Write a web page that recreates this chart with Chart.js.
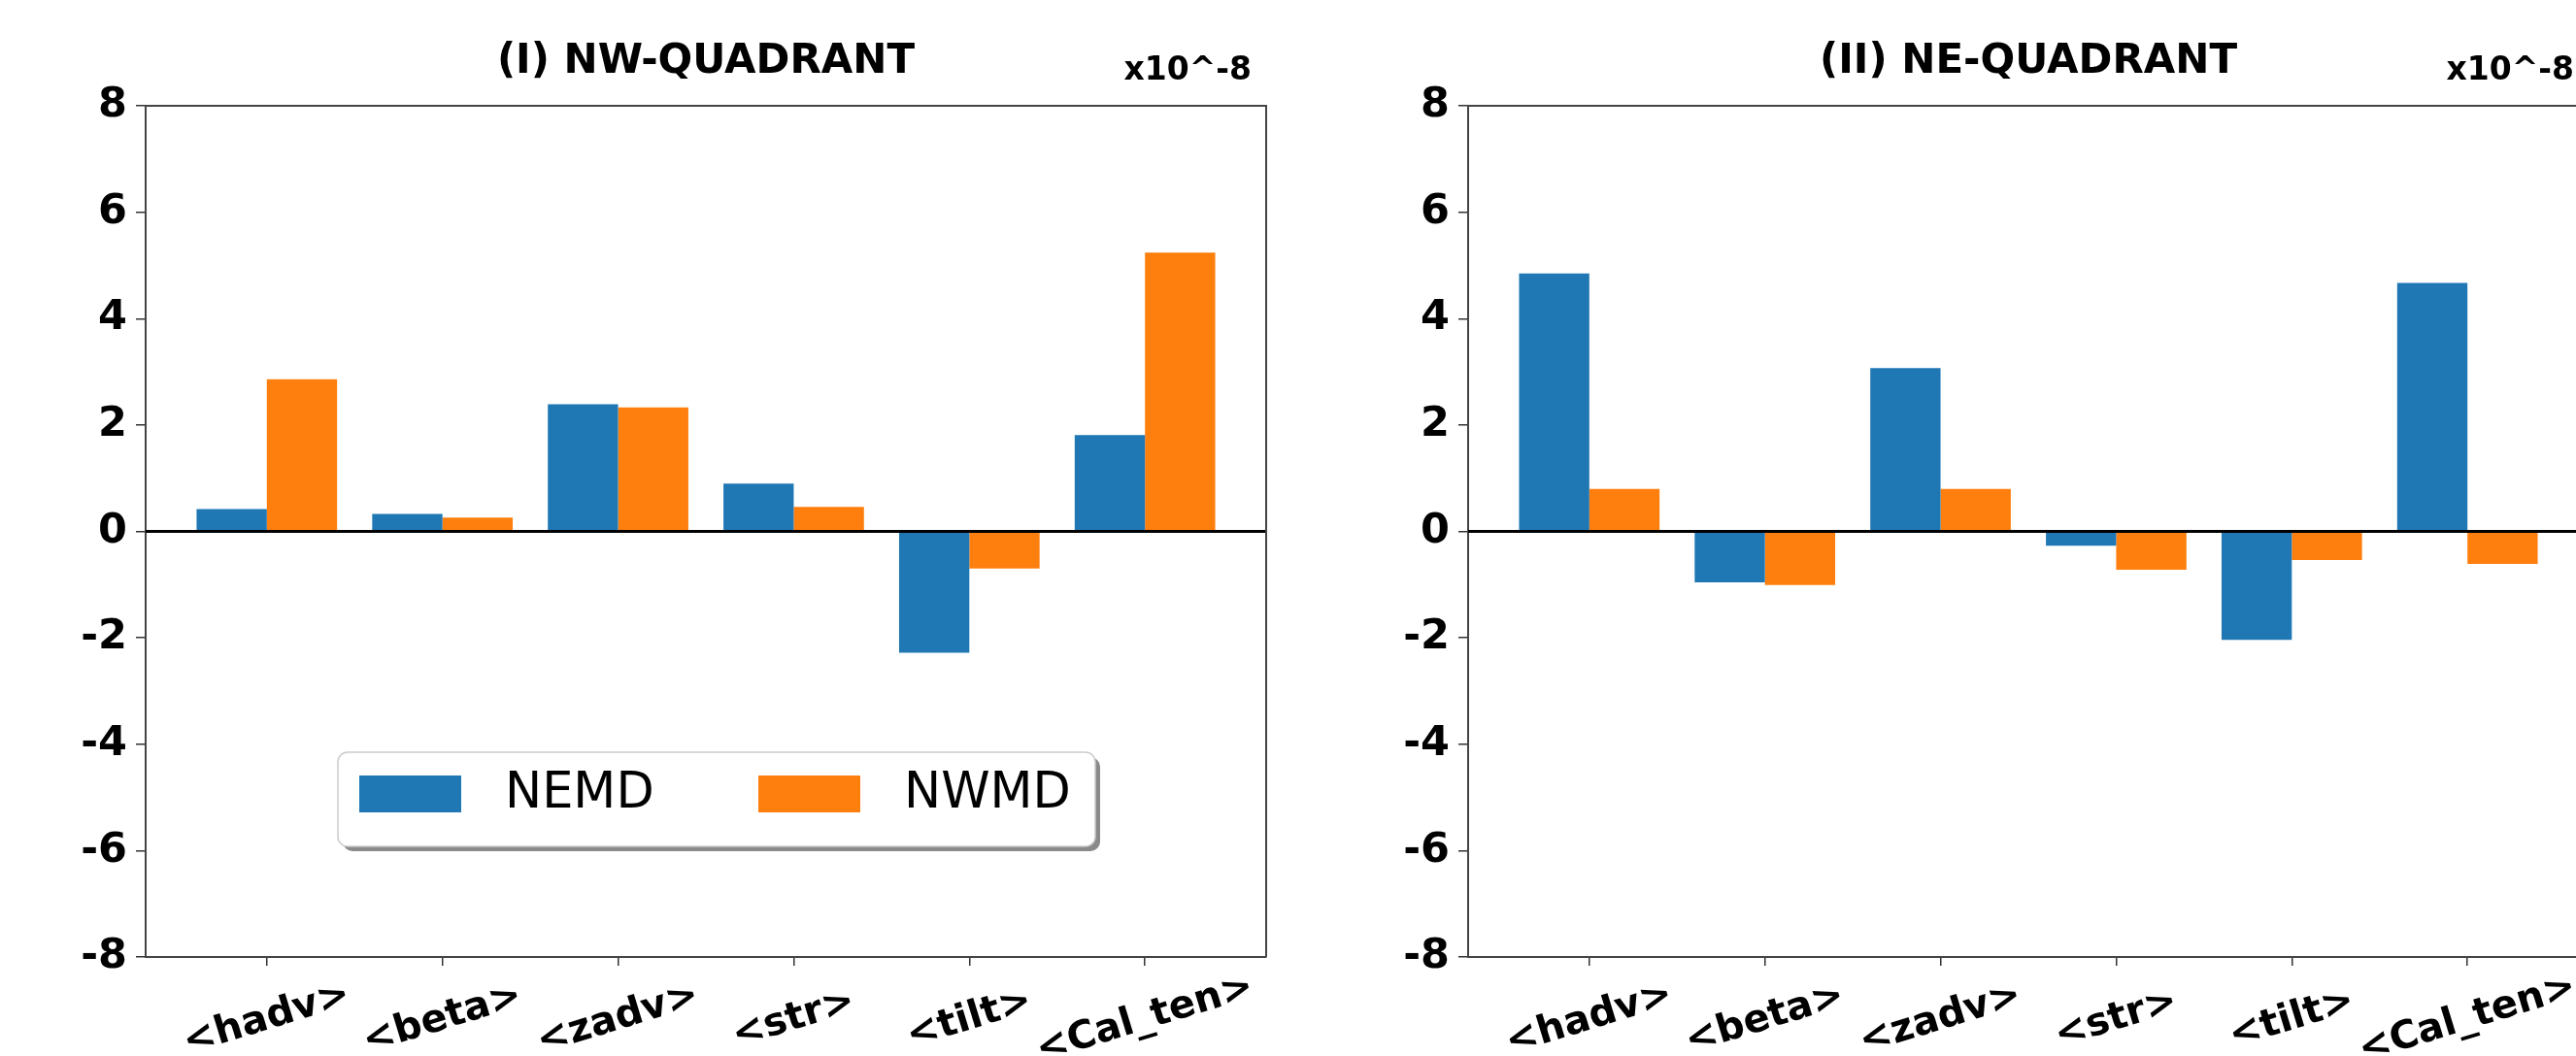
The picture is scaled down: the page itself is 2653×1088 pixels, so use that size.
<!DOCTYPE html>
<html>
<head>
<meta charset="utf-8">
<script src="https://cdn.jsdelivr.net/npm/chart.js@4.4.1/dist/chart.umd.min.js"></script>
<style>
html, body { margin: 0; padding: 0; background: #fff; overflow: hidden; width: 2653px; height: 1088px; }
canvas { position: absolute; top: 0; }
#nwChart { left: 0; }
#neChart { left: 1362px; }
</style>
</head>
<body>
<canvas id="nwChart" width="1330" height="1088"></canvas>
<canvas id="neChart" width="1330" height="1088"></canvas>
<script>
const categories = ['<hadv>', '<beta>', '<zadv>', '<str>', '<tilt>', '<Cal_ten>'];
const seriesNames = ['NEMD', 'NWMD'];
const nwNemd = [0.42, 0.33, 2.39, 0.90, -2.28, 1.81];
const nwNwmd = [2.86, 0.26, 2.33, 0.46, -0.70, 5.24];
const neNemd = [4.85, -0.96, 3.07, -0.27, -2.04, 4.67];
const neNwmd = [0.80, -1.01, 0.80, -0.72, -0.54, -0.61];
const yTicks = [-8, -6, -4, -2, 0, 2, 4, 6, 8];

const FONT = "'DejaVu Sans', sans-serif";
const BLUE = '#1f77b4';
const ORANGE = '#ff7f0e';

// zero line + top/right spines
const frameAndZero = {
    id: 'frameAndZero',
    afterDatasetsDraw(chart) {
        const ctx = chart.ctx;
        const a = chart.chartArea;
        const y0 = chart.scales.y.getPixelForValue(0);
        ctx.save();
        ctx.strokeStyle = '#000';
        ctx.lineWidth = 3;
        ctx.beginPath();
        ctx.moveTo(a.left, y0);
        ctx.lineTo(a.right, y0);
        ctx.stroke();
        ctx.strokeStyle = '#444';
        ctx.lineWidth = 2;
        ctx.beginPath();
        ctx.moveTo(a.left, a.top);
        ctx.lineTo(a.right, a.top);
        ctx.lineTo(a.right, a.bottom);
        ctx.stroke();
        ctx.restore();
    }
};

// rotated category labels, centred on their ticks like matplotlib
const xLabels = {
    id: 'xLabels',
    afterDraw(chart) {
        const ctx = chart.ctx;
        const xs = chart.scales.x;
        const a = chart.chartArea;
        ctx.save();
        ctx.font = `bold 40px ${FONT}`;
        ctx.fillStyle = '#000';
        ctx.textAlign = 'center';
        ctx.textBaseline = 'middle';
        categories.forEach((c, i) => {
            ctx.save();
            ctx.translate(xs.getPixelForValue(i), a.bottom + 64);
            ctx.rotate(-17 * Math.PI / 180);
            ctx.fillText(c, 0, 0);
            ctx.restore();
        });
        ctx.restore();
    }
};

const panelText = {
    id: 'panelText',
    afterDraw(chart, args, opts) {
        const ctx = chart.ctx;
        const a = chart.chartArea;
        ctx.save();
        ctx.fillStyle = '#000';
        ctx.textBaseline = 'alphabetic';
        ctx.font = `bold 42px ${FONT}`;
        ctx.textAlign = 'center';
        ctx.fillText(opts.title, (a.left + a.right) / 2, 75);
        ctx.font = `bold 33px ${FONT}`;
        ctx.textAlign = 'right';
        ctx.fillText(opts.exponent, a.right - 15, 82);
        ctx.restore();
    }
};

// matplotlib-style legend box with shadow
const boxLegend = {
    id: 'boxLegend',
    afterDraw(chart, args, opts) {
        if (!opts.show) return;
        const ctx = chart.ctx;
        const a = chart.chartArea;
        const bx = a.left + 198, by = a.top + 666, bw = 780, bh = 97, r = 10;
        const rr = (x, y) => {
            ctx.beginPath();
            ctx.roundRect(x, y, bw, bh, r);
        };
        ctx.save();
        ctx.fillStyle = '#8a8a8a';
        rr(bx + 5, by + 5);
        ctx.fill();
        ctx.fillStyle = '#fff';
        ctx.strokeStyle = '#cccccc';
        ctx.lineWidth = 1.5;
        rr(bx, by);
        ctx.fill();
        ctx.stroke();
        ctx.font = `51px ${FONT}`;
        ctx.textAlign = 'left';
        ctx.textBaseline = 'middle';
        const offs = [0, 411];
        chart.data.datasets.forEach((ds, i) => {
            ctx.fillStyle = ds.backgroundColor;
            ctx.fillRect(bx + 22 + offs[i], by + 24, 105, 38);
            ctx.fillStyle = '#000';
            ctx.fillText(ds.label, bx + 172 + offs[i], by + 44);
        });
        ctx.restore();
    }
};

function makeChart(id, title, nemd, nwmd, showLegend) {
    const ctx = document.getElementById(id).getContext('2d');
    const toPoints = vals => categories.map((c, i) => ({ x: i, y: vals[i] }));
    return new Chart(ctx, {
        type: 'bar',
        data: {
            datasets: [{
                label: seriesNames[0],
                data: toPoints(nemd),
                backgroundColor: BLUE,
                categoryPercentage: 0.8,
                barPercentage: 1.0
            }, {
                label: seriesNames[1],
                data: toPoints(nwmd),
                backgroundColor: ORANGE,
                categoryPercentage: 0.8,
                barPercentage: 1.0
            }]
        },
        options: {
            responsive: false,
            animation: false,
            devicePixelRatio: 1,
            layout: { padding: { top: 109, left: 0, right: 26, bottom: 0 } },
            scales: {
                x: {
                    type: 'linear',
                    min: -0.69,
                    max: 5.69,
                    offset: false,
                    afterBuildTicks: s => { s.ticks = categories.map((c, i) => ({ value: i })); },
                    afterFit: s => { s.height = 102; },
                    ticks: { display: false },
                    grid: { offset: false, drawOnChartArea: false, drawTicks: true, tickLength: 9, color: '#333', lineWidth: 1.5 },
                    border: { color: '#444', width: 2 }
                },
                y: {
                    min: -8,
                    max: 8,
                    afterBuildTicks: s => { s.ticks = yTicks.map(v => ({ value: v })); },
                    afterFit: s => { s.width = 150; },
                    ticks: {
                        color: '#000',
                        padding: 9,
                        font: { family: FONT, size: 43, weight: 'bold' },
                        callback: v => String(v)
                    },
                    grid: { drawOnChartArea: false, drawTicks: true, tickLength: 10, color: '#333', lineWidth: 1.5 },
                    border: { color: '#444', width: 2 }
                }
            },
            plugins: {
                legend: { display: false },
                tooltip: { enabled: false },
                panelText: { title: title, exponent: 'x10^-8' },
                boxLegend: { show: showLegend }
            }
        },
        plugins: [frameAndZero, xLabels, panelText, boxLegend]
    });
}

makeChart('nwChart', '(I) NW-QUADRANT', nwNemd, nwNwmd, true);
makeChart('neChart', '(II) NE-QUADRANT', neNemd, neNwmd, false);
</script>
</body>
</html>
